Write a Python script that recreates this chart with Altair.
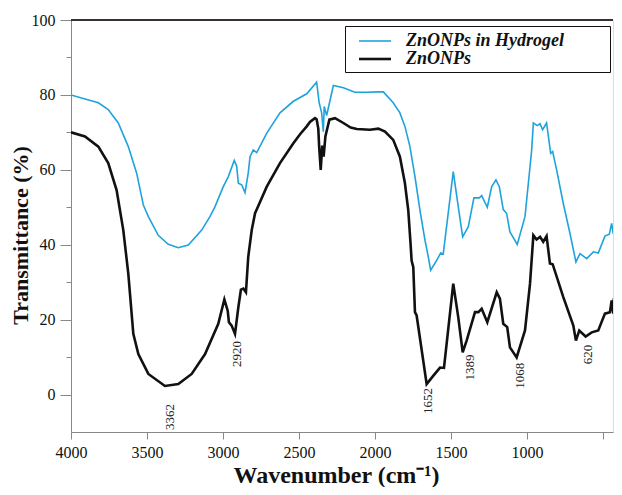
import altair as alt
import pandas as pd

# ZnONPs (black)
znonp_wn = [4000, 3908, 3820, 3755, 3700, 3656, 3623, 3590, 3557, 3491, 3382, 3294, 3206, 3118, 3031,
            2991, 2969, 2961, 2943, 2921, 2899, 2882, 2866, 2849, 2834, 2811, 2789, 2712, 2625, 2537,
            2493, 2449, 2428, 2395, 2384, 2373, 2367, 2357, 2347, 2338, 2326, 2300, 2263, 2208, 2160,
            2120, 2033, 1978, 1934, 1880, 1836, 1803, 1781, 1766, 1759, 1748, 1737, 1726, 1660, 1617,
            1572, 1546, 1485, 1452, 1423, 1397, 1342, 1320, 1298, 1261, 1199, 1178, 1156, 1130, 1112,
            1068, 1013, 980, 958, 937, 914, 893, 871, 849, 831, 761, 695, 678, 656, 614, 574, 531, 487,
            454, 443, 432, 428, 406]
znonp_t = [70.0, 68.9, 66.2, 61.8, 54.6, 43.9, 32.3, 16.2, 10.8, 5.5, 2.3, 2.8, 5.5, 10.8, 18.9,
           25.4, 22.4, 19.3, 18.4, 16.2, 23.3, 28.0, 28.3, 27.3, 36.7, 43.9, 48.4, 55.5, 61.8, 67.1,
           69.5, 71.6, 72.8, 73.8, 73.5, 71.0, 66.0, 60.0, 66.5, 63.5, 69.0, 73.4, 73.8, 72.5, 71.3,
           70.9, 70.7, 71.0, 70.2, 68.0, 63.5, 56.4, 49.2, 40.3, 35.8, 34.0, 22.0, 21.1, 2.8, 5.0,
           7.2, 7.1, 29.6, 20.6, 11.3, 14.4, 22.0, 22.0, 22.9, 19.3, 27.3, 25.6, 18.9, 18.0, 12.6,
           9.9, 17.1, 29.6, 42.5, 41.4, 42.1, 40.8, 42.3, 35.0, 34.8, 26.0, 18.4, 14.4, 17.1, 15.5, 16.6, 17.1, 21.6,
           22.0, 25.1, 21.6, 25.6, 26.5]

# ZnONPs in Hydrogel (blue)
gel_wn = [4000, 3908, 3820, 3755, 3689, 3623, 3568, 3524, 3491, 3426, 3360, 3294, 3228, 3140, 3086,
          3053, 2998, 2965, 2926, 2910, 2899, 2877, 2855, 2834, 2822, 2801, 2778, 2712, 2625, 2537,
          2449, 2384, 2367, 2351, 2340, 2334, 2318, 2274, 2208, 2132, 2055, 1978, 1945, 1880, 1836,
          1803, 1770, 1737, 1704, 1671, 1649, 1634, 1594, 1568, 1551, 1485, 1452, 1423, 1386, 1349,
          1314, 1298, 1261, 1232, 1204, 1182, 1156, 1134, 1112, 1064, 1013, 969, 958, 932, 914, 897,
          871, 844, 831, 805, 761, 717, 678, 651, 607, 563, 531, 487, 458, 443, 432, 428, 410]
gel_t = [80.0, 78.9, 77.9, 76.1, 72.5, 66.2, 59.1, 50.6, 47.5, 42.5, 40.1, 39.2, 39.9, 43.9, 47.5,
         50.1, 55.5, 58.2, 62.5, 61.0, 56.4, 56.0, 53.9, 59.1, 63.5, 65.3, 64.6, 69.8, 75.2, 78.3,
         80.3, 83.4, 77.9, 75.2, 70.2, 76.9, 74.5, 82.5, 81.9, 80.7, 80.7, 80.8, 80.8, 77.9, 75.2,
         71.6, 66.2, 58.2, 49.2, 41.2, 36.7, 33.2, 35.8, 37.8, 37.5, 59.5, 50.1, 42.1, 44.8, 52.5,
         52.5, 53.1, 50.0, 55.5, 57.3, 55.5, 49.4, 48.4, 43.4, 40.1, 47.5, 65.3, 72.5, 71.8, 72.3, 70.7,
         72.5, 64.4, 64.9, 60.0, 51.0, 43.0, 35.4, 37.6, 36.3, 38.1, 37.8, 42.3, 42.8, 45.7, 42.8, 46.1, 47.0]

series_names = ["ZnONPs in Hydrogel", "ZnONPs"]
series_colors = ["#1ea3dc", "#111111"]

# peak annotations
ann_text = ["3362", "2920", "1652", "1389", "1068", "620"]
ann_x = [3349, 2908, 1651, 1375, 1046, 599]
ann_y = [-6.0, 10.8, -1.7, 7.2, 5.0, 10.7]

x_ticks = [4000 - 250 * i for i in range(15)]
y_ticks = [10 * i for i in range(11)]

df = pd.concat([
    pd.DataFrame({"wn": gel_wn, "T": gel_t, "series": series_names[0]}),
    pd.DataFrame({"wn": znonp_wn, "T": znonp_t, "series": series_names[1]}),
])
ann = pd.DataFrame({"label": ann_text, "wn": ann_x, "T": ann_y})

FONT = "Liberation Serif"
AX = "#3a3030"

xscale = alt.Scale(domain=[4000, 434], nice=False, zero=False)
yscale = alt.Scale(domain=[-10, 100], nice=False, zero=False)

x_axis = alt.Axis(
    values=x_ticks,
    labelExpr="(datum.value % 500 == 0 && datum.value > 500) ? datum.label : ''",
    format="d", tickSize=7, labelPadding=5, labelFontSize=16, labelFont=FONT,
    labelColor="#111", labelFlush=False, grid=False,
    title="Wavenumber (cm\u207b\u00b9)", titleFont=FONT, titleFontSize=24,
    titleFontWeight="bold", titleColor="#111", titleX=265, titleY=50,
    titleBaseline="alphabetic", titleAnchor="middle",
)
y_axis = alt.Axis(
    values=y_ticks,
    labelExpr="datum.value % 20 == 0 ? datum.label : ''",
    tickSize={"condition": {"test": "datum.value % 20 == 0", "value": 11}, "value": 5},
    labelPadding=5, labelFontSize=16, labelFont=FONT, labelColor="#111", grid=False,
    title="Transmittance (%)", titleFont=FONT, titleFontSize=22, titleFontWeight="bold",
    titleColor="#111", titleX=-39, titleY=215, titleAngle=270, titleAlign="center",
    titleBaseline="bottom",
)

# invisible spacer title to widen the legend frame
spacer = "M" * 136

lines = alt.Chart(df).mark_line(interpolate="linear", clip=True).encode(
    x=alt.X("wn:Q", scale=xscale, axis=x_axis),
    y=alt.Y("T:Q", scale=yscale, axis=y_axis),
    color=alt.Color("series:N", scale=alt.Scale(domain=series_names, range=series_colors),
                    legend=alt.Legend(
                        orient="none", legendX=274, legendY=6,
                        title=spacer, titleFontSize=2, titleColor="transparent",
                        titleFont=FONT, titleFontWeight="bold", titleLimit=0, titlePadding=0,
                        titleOrient="top", titleAnchor="start",
                        strokeColor="#111", padding=4, rowPadding=-3,
                        labelFont=FONT, labelFontSize=18, labelFontStyle="italic",
                        labelFontWeight="bold", labelColor="#111", labelOffset=39,
                        labelLimit=0,
                        symbolType="M0.2,0H6.6", symbolSize=100, symbolStrokeWidth=2,
                    )),
    strokeWidth=alt.StrokeWidth("series:N", scale=alt.Scale(domain=series_names, range=[1.6, 2.6]),
                                legend=None),
    detail="series:N",
)

top = alt.Chart(df).mark_rule(color=AX, strokeWidth=1.5).encode(y=alt.datum(100))

labels = alt.Chart(ann).mark_text(angle=270, align="center", baseline="middle",
                                  font=FONT, fontSize=13, color="#222").encode(
    x=alt.X("wn:Q", scale=xscale), y=alt.Y("T:Q", scale=yscale), text="label:N"
)

chart = alt.layer(lines, top, labels).properties(
    width=542, height=412,
    autosize=alt.AutoSizeParams(type="none"),
    padding={"left": 63, "top": 12, "right": 1, "bottom": 55},
).configure_view(stroke=None).configure_axis(
    domainColor=AX, domainWidth=1.6, tickColor=AX, tickWidth=1.5,
).configure(background="white")

chart.save("out.html", embed_options={"renderer": "svg", "actions": False})
